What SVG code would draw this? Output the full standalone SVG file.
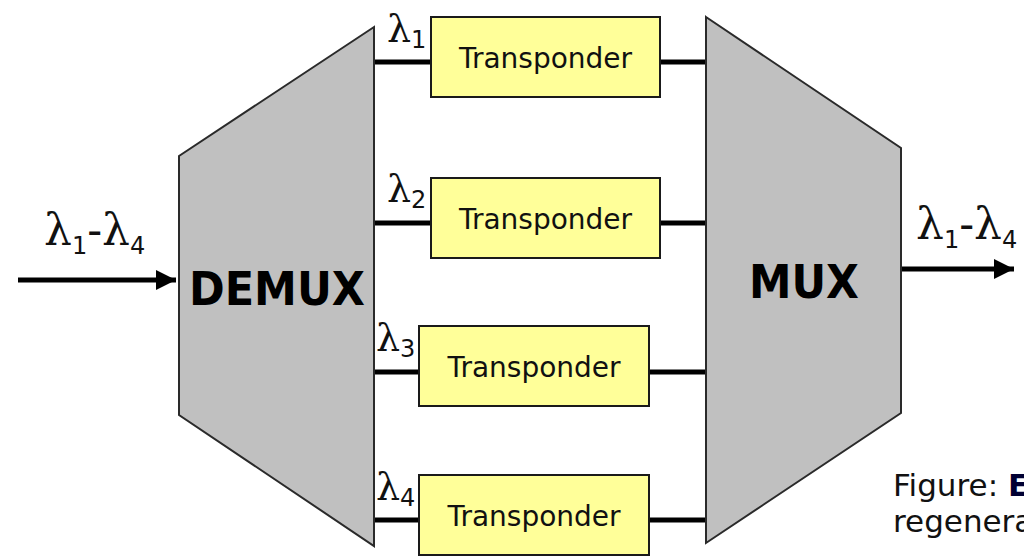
<svg xmlns="http://www.w3.org/2000/svg" width="1024" height="559" viewBox="0 0 1024 559">
<defs>
<style>
.blk{fill:#c0c0c0;stroke:#2a2a2a;stroke-width:2}
.tp{fill:#ffff99;stroke:#1a1a1a;stroke-width:2}
.tpt{font-family:"DejaVu Sans",Verdana,sans-serif;font-size:28px;fill:#111;text-anchor:middle}
.big{font-family:"DejaVu Sans","Liberation Sans",sans-serif;font-weight:bold;font-size:46px;fill:#000}
.lam{font-family:"DejaVu Serif","Liberation Serif",serif;font-size:38px;fill:#111}
.lamb{font-family:"DejaVu Serif","Liberation Serif",serif;font-size:44px;fill:#111}
.sub{font-family:"DejaVu Sans",sans-serif;font-size:24px}
.ln{stroke:#000;stroke-width:5;fill:none}
.cap{font-family:"DejaVu Sans",Verdana,sans-serif;font-size:31px;fill:#111}
</style>
<marker id="ah" viewBox="0 0 10 10" refX="10" refY="5" markerWidth="4" markerHeight="4" markerUnits="strokeWidth" orient="auto">
<path d="M0,0 L10,5 L0,10 Z" fill="#000"/>
</marker>
</defs>
<rect width="1024" height="559" fill="#fff"/>
<g id="connectors">
<line class="ln" x1="18" y1="280" x2="176" y2="280" marker-end="url(#ah)"/>
<line class="ln" x1="902" y1="269" x2="1014" y2="269" marker-end="url(#ah)"/>
<line class="ln" x1="374" y1="62" x2="431" y2="62"/>
<line class="ln" x1="660" y1="62" x2="706" y2="62"/>
<line class="ln" x1="374" y1="223" x2="431" y2="223"/>
<line class="ln" x1="660" y1="223" x2="706" y2="223"/>
<line class="ln" x1="374" y1="372" x2="419" y2="372"/>
<line class="ln" x1="649" y1="372" x2="706" y2="372"/>
<line class="ln" x1="374" y1="520" x2="419" y2="520"/>
<line class="ln" x1="649" y1="520" x2="706" y2="520"/>
</g>
<g id="demux">
<polygon class="blk" points="179,156 374,27 374,546 179,415"/>
<text class="big" x="277" y="305" text-anchor="middle" textLength="176" lengthAdjust="spacingAndGlyphs">DEMUX</text>
</g>
<g id="mux">
<polygon class="blk" points="706,17 901,148 901,413 706,543"/>
<text class="big" x="804" y="298" text-anchor="middle" textLength="110" lengthAdjust="spacingAndGlyphs">MUX</text>
</g>
<g id="tp1">
<rect class="tp" x="431" y="17" width="229" height="80"/>
<text class="tpt" x="545.5" y="68">Transponder</text>
</g>
<g id="tp2">
<rect class="tp" x="431" y="178" width="229" height="80"/>
<text class="tpt" x="545.5" y="229">Transponder</text>
</g>
<g id="tp3">
<rect class="tp" x="419" y="326" width="230" height="80"/>
<text class="tpt" x="534" y="377">Transponder</text>
</g>
<g id="tp4">
<rect class="tp" x="419" y="475" width="230" height="80"/>
<text class="tpt" x="534" y="526">Transponder</text>
</g>
<g id="labels">
<text class="lam" x="387" y="42">λ<tspan class="sub" dy="6">1</tspan></text>
<text class="lam" x="387" y="202">λ<tspan class="sub" dy="6">2</tspan></text>
<text class="lam" x="376" y="351">λ<tspan class="sub" dy="6">3</tspan></text>
<text class="lam" x="376" y="500">λ<tspan class="sub" dy="6">4</tspan></text>
<text class="lamb" x="44" y="245">λ<tspan class="sub" font-size="28" dy="9">1</tspan><tspan dy="-9">-λ</tspan><tspan class="sub" font-size="28" dy="9">4</tspan></text>
<text class="lamb" x="916" y="239">λ<tspan class="sub" font-size="28" dy="9">1</tspan><tspan dy="-9">-λ</tspan><tspan class="sub" font-size="28" dy="9">4</tspan></text>
</g>
<g id="caption">
<text class="cap" x="893" y="496">Figure: <tspan font-weight="bold" fill="#000033">E</tspan></text>
<text class="cap" x="893" y="532">regenera</text>
</g>
</svg>
